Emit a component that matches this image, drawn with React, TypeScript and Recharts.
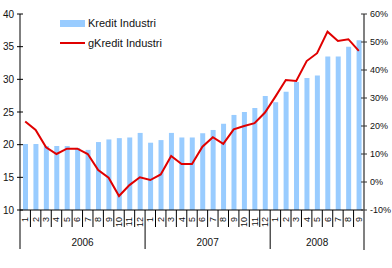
import React from 'react';
import { ComposedChart, Bar, Line, XAxis, YAxis, Legend } from 'recharts';

// Industrial credit outstanding (left axis) and its year-on-year growth in % (right axis)
const years = ['2006', '2007', '2008'];
const monthsPerYear = [12, 12, 9];
const months = [
  '1', '2', '3', '4', '5', '6', '7', '8', '9', '10', '11', '12',
  '1', '2', '3', '4', '5', '6', '7', '8', '9', '10', '11', '12',
  '1', '2', '3', '4', '5', '6', '7', '8', '9',
];
const kredit = [
  20.1, 20.1, 19.8, 19.8, 19.8, 19.5, 19.2, 20.4, 20.8, 21.0, 21.1, 21.8,
  20.3, 20.7, 21.8, 21.1, 21.1, 21.75, 22.25, 23.2, 24.55, 25.0, 25.6, 27.45,
  26.5, 28.1, 29.6, 30.2, 30.6, 33.5, 33.5, 35.0, 36.0,
];
const gKredit = [
  21.6, 18.6, 12.4, 10.0, 11.9, 11.9, 10.0, 4.3, 1.5, -5.0, -1.1, 1.7,
  0.7, 2.7, 9.3, 6.4, 6.4, 12.6, 16.0, 13.6, 18.8, 20.0, 21.0, 24.8,
  30.5, 36.4, 36.1, 43.2, 46.0, 53.7, 50.4, 51.0, 46.8,
];
const leftTicks = [10, 15, 20, 25, 30, 35, 40];
const rightTicks = [-10, 0, 10, 20, 30, 40, 50, 60];

const BAR_COLOR = '#99CCFF';
const LINE_COLOR = '#E00000';
const FONT = '"Liberation Sans", Arial, sans-serif';

// year of every category, plus whether it opens a year group
const yearOf: string[] = [];
const yearStart: boolean[] = [];
const yearLen: number[] = [];
years.forEach((y, yi) => {
  for (let m = 0; m < monthsPerYear[yi]; m++) {
    yearOf.push(y);
    yearStart.push(m === 0);
    yearLen.push(monthsPerYear[yi]);
  }
});

const data = months.map((m, i) => ({
  key: `${yearOf[i]}-${m}`,
  month: m,
  kredit: kredit[i],
  gKredit: gKredit[i],
}));

const MonthTick = (props: any) => {
  const { x, y, payload, index, width } = props;
  const half = payload && payload.offset ? payload.offset : width / (2 * data.length);
  const left = x - half;
  const first = yearStart[index];
  const last = index === data.length - 1;
  return (
    <g>
      <line x1={left} x2={left} y1={y} y2={first ? y + 39 : y + 17} stroke="#000" strokeWidth={1} />
      {last && (
        <line x1={x + half} x2={x + half} y1={y} y2={y + 40} stroke="#808080" strokeWidth={2} />
      )}
      <text
        transform={`translate(${x},${y + 7}) rotate(-90)`}
        textAnchor="end"
        dominantBaseline="central"
        fontSize={9}
        fill="#111"
        fontFamily={FONT}
      >
        {data[index].month}
      </text>
      {first && (
        <text
          x={left + yearLen[index] * half}
          y={y + 32}
          textAnchor="middle"
          dominantBaseline="central"
          fontSize={10}
          fill="#111"
          fontFamily={FONT}
        >
          {yearOf[index]}
        </text>
      )}
    </g>
  );
};

const LeftTick = (props: any) => {
  const { x, y, payload } = props;
  return (
    <g>
      <line x1={x - 3} x2={x + 3} y1={y} y2={y} stroke="#000" />
      <text x={x - 6} y={y} textAnchor="end" dominantBaseline="central" fontSize={10} fill="#111" fontFamily={FONT}>
        {payload.value}
      </text>
    </g>
  );
};

const RightTick = (props: any) => {
  const { x, y, payload } = props;
  return (
    <g>
      <line x1={x - 3} x2={x + 3} y1={y} y2={y} stroke="#333" />
      <text x={x + 6} y={y} textAnchor="start" dominantBaseline="central" fontSize={9} fill="#111" fontFamily={FONT}>
        {`${payload.value}%`}
      </text>
    </g>
  );
};

const LegendBox = () => (
  <div style={{ fontFamily: FONT, fontSize: 11, color: '#111', lineHeight: '20px' }}>
    <div style={{ display: 'flex', alignItems: 'center', height: 20 }}>
      <span style={{ display: 'inline-block', width: 25, height: 7, background: BAR_COLOR }} />
      <span style={{ marginLeft: 3 }}>Kredit Industri</span>
    </div>
    <div style={{ display: 'flex', alignItems: 'center', height: 20 }}>
      <span style={{ display: 'inline-block', width: 25, height: 2, background: LINE_COLOR }} />
      <span style={{ marginLeft: 3 }}>gKredit Industri</span>
    </div>
  </div>
);

export default function App() {
  return (
    <div style={{ position: 'absolute', left: 0, top: 0, width: 392, height: 268, background: '#fff' }}>
      <ComposedChart
        width={392}
        height={268}
        data={data}
        margin={{ top: 14, right: 0, bottom: 0, left: 0 }}
        barCategoryGap={0}
        style={{ fontFamily: FONT }}
      >
        <XAxis
          dataKey="key"
          type="category"
          height={58}
          interval={0}
          tickSize={0}
          tickMargin={0}
          tickLine={false}
          axisLine={{ stroke: '#000' }}
          tick={<MonthTick />}
        />
        <YAxis
          yAxisId="left"
          orientation="left"
          width={20}
          domain={[10, 40]}
          ticks={leftTicks}
          tickSize={0}
          tickMargin={0}
          tickLine={false}
          axisLine={{ stroke: '#000' }}
          tick={<LeftTick />}
        />
        <YAxis
          yAxisId="right"
          orientation="right"
          width={28}
          domain={[-10, 60]}
          ticks={rightTicks}
          tickSize={0}
          tickMargin={0}
          tickLine={false}
          axisLine={{ stroke: '#808080', strokeWidth: 2 }}
          tick={<RightTick />}
        />
        <Legend
          layout="vertical"
          align="center"
          verticalAlign="middle"
          wrapperStyle={{ left: 60, top: 13, width: 'auto' }}
          content={<LegendBox />}
        />
        <Bar yAxisId="left" dataKey="kredit" name="Kredit Industri" fill={BAR_COLOR} barSize={5} isAnimationActive={false} />
        <Line
          yAxisId="right"
          dataKey="gKredit"
          name="gKredit Industri"
          stroke={LINE_COLOR}
          strokeWidth={2}
          dot={false}
          type="linear"
          isAnimationActive={false}
        />
      </ComposedChart>
    </div>
  );
}
